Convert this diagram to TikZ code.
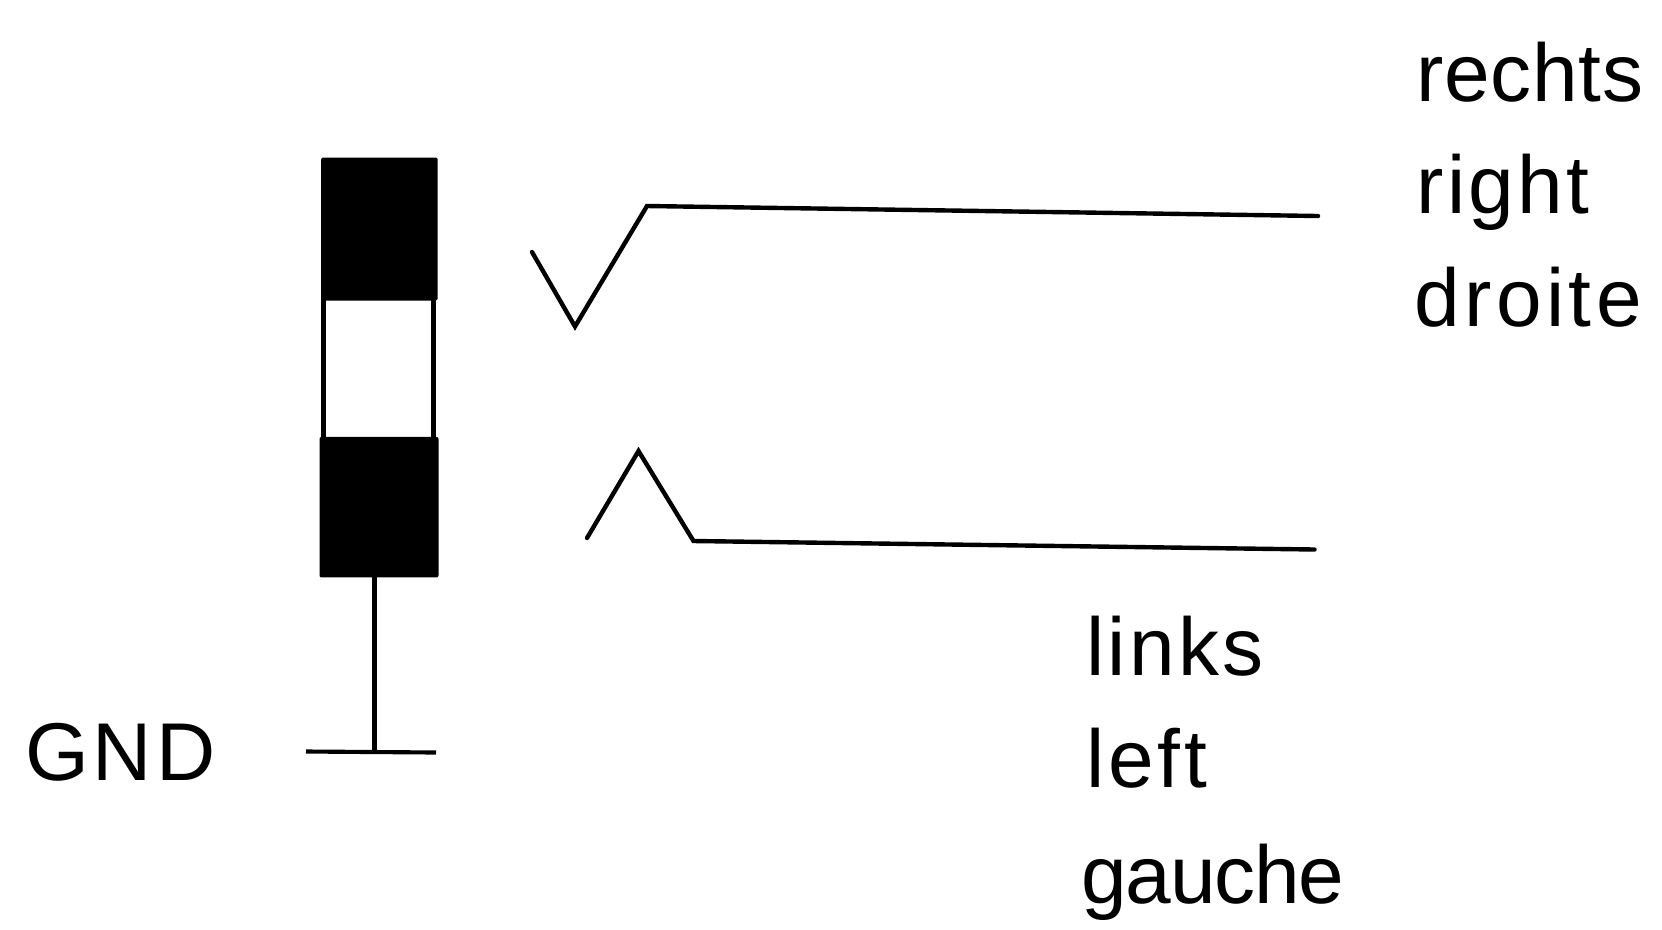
\documentclass[tikz,border=0pt]{standalone}
\usepackage{fontspec}
\setmainfont{Liberation Sans}
\newcommand{\lsp}[1]{\addfontfeature{LetterSpace=#1}}
\tikzset{
  lbl/.style={anchor=base west,inner sep=0pt,outer sep=0pt,font=\fontsize{61.5}{70}\selectfont},
  band/.style={fill=black,draw=none,inner sep=0pt,outer sep=0pt,rounded corners=1.5pt},
  ringbox/.style={fill=white,draw=black,line width=3.6pt,inner sep=0pt,outer sep=0pt},
  wire/.style={line width=3.3pt,black,line join=miter,line cap=round},
  thin wire/.style={line width=3.1pt,black,line cap=butt}
}
\begin{document}
\begin{tikzpicture}[x=0.75pt,y=-0.75pt]
\useasboundingbox[fill=white] (0,0) rectangle (1662,929);
% plug
\node[ringbox,minimum width=110*0.75pt,minimum height=145*0.75pt] (ring) at (378.8,368.5) {};
\node[band,minimum width=116.5*0.75pt,minimum height=143*0.75pt] (tip) at (379.4,229) {};
\node[band,minimum width=119*0.75pt,minimum height=140.5*0.75pt] (sleeve) at (379,507.2) {};
% ground
\coordinate (gl) at (306,751.5);
\coordinate (gr) at (436,752.5);
\coordinate (gm) at (374.5,752);
\draw[thin wire] (gl) -- (gr);
\draw[thin wire] (gm) -- (gm |- sleeve.south);
% right contact
\coordinate (r0) at (532,252);
\coordinate (r1) at (575,326.5);
\coordinate (r2) at (647,206);
\coordinate (r3) at (1318,216);
\draw[wire] (r0) -- (r1) -- (r2) -- (r3);
% left contact
\coordinate (l0) at (587,538);
\coordinate (l1) at (638.5,451);
\coordinate (l2) at (693.5,541);
\coordinate (l3) at (1314.5,549.5);
\draw[wire] (l0) -- (l1) -- (l2) -- (l3);
% labels
\node[lbl] (t1) at (1416.5,101) {\lsp{0.8}rechts};
\node[lbl] (t2) at (1416.5,213) {\lsp{4.2}right};
\node[lbl] (t3) at (1414.5,326) {\lsp{5.4}droite};
\node[lbl] (t4) at (1086.5,675) {\lsp{3.9}links};
\node[lbl] (t5) at (1086.5,787) {\lsp{4.7}left};
\node[lbl] (t6) at (1081.5,903) {\lsp{-1.5}gauche};
\node[lbl] (t7) at (25,780) {\lsp{5}GND};
\end{tikzpicture}
\end{document}
